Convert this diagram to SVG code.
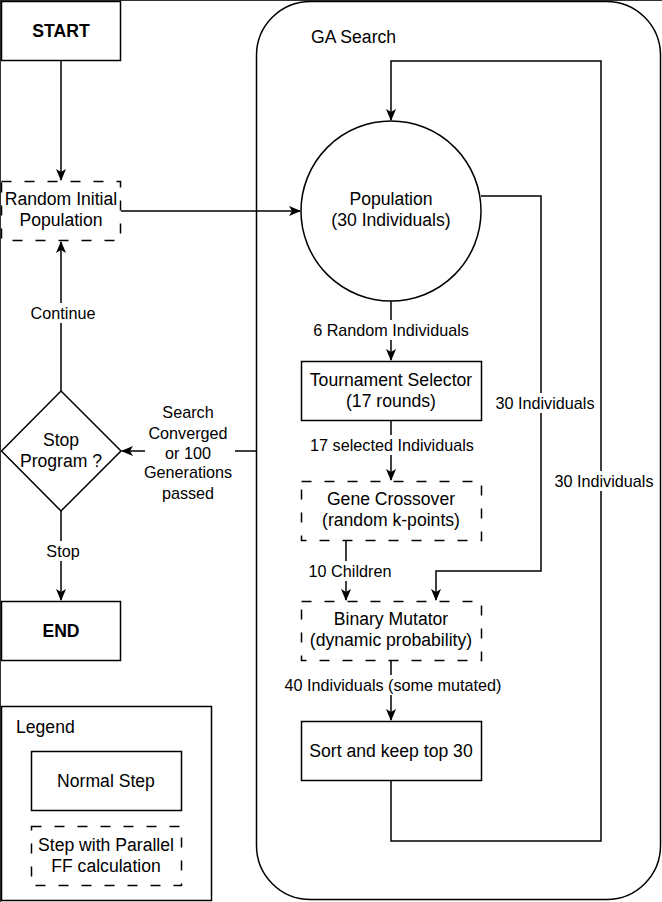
<svg xmlns="http://www.w3.org/2000/svg" width="662" height="902" viewBox="0 0 662 902">
<style>
  .box{fill:#fff;stroke:#000;stroke-width:1.5}
  .dash{fill:#fff;stroke:#000;stroke-width:1.5;stroke-dasharray:10 13}
  .line{fill:none;stroke:#000;stroke-width:1.5}
  .t{font-family:"Liberation Sans",Arial,sans-serif;font-size:17.6px;fill:#000;text-anchor:middle;dominant-baseline:central}
  .b{font-weight:bold}
  .lbl{font-family:"Liberation Sans",Arial,sans-serif;font-size:16.2px;fill:#000;text-anchor:middle;dominant-baseline:central}
  .bg{fill:#fff}
</style>
<defs>
  <marker id="arr" viewBox="0 0 12 10" refX="11" refY="5" markerWidth="12" markerHeight="10" markerUnits="userSpaceOnUse" orient="auto">
    <path d="M0,0 L12,5 L0,10 L3,5 Z" fill="#000"/>
  </marker>
</defs>
<rect width="662" height="902" fill="#fff"/>
<path d="M0,0.5 H662 M0.5,0 V902" stroke="#333" stroke-width="1" fill="none"/>

<g id="ga-search">
  <rect x="256.5" y="1.5" width="404" height="898" rx="54" ry="54" class="box"/>
  <text x="311" y="37" class="t" style="text-anchor:start">GA Search</text>
</g>

<g id="connectors">
  <path d="M61,61 V180" class="line" marker-end="url(#arr)"/>
  <path d="M121,211 H300" class="line" marker-end="url(#arr)"/>
  <path d="M61,391 V242" class="line" marker-end="url(#arr)"/>
  <path d="M61,511 V600" class="line" marker-end="url(#arr)"/>
  <path d="M256,451 H122" class="line" marker-end="url(#arr)"/>
  <path d="M391,301 V360" class="line" marker-end="url(#arr)"/>
  <path d="M391,421 V480" class="line" marker-end="url(#arr)"/>
  <path d="M346,541 V600" class="line" marker-end="url(#arr)"/>
  <path d="M481,196 H541 V571 H436 V600" class="line" marker-end="url(#arr)"/>
  <path d="M391,661 V720" class="line" marker-end="url(#arr)"/>
  <path d="M391,781 V841 H601 V61 H391 V120" class="line" marker-end="url(#arr)"/>

  <rect x="31" y="303" width="64" height="20" class="bg"/>
  <text x="63" y="313" class="lbl">Continue</text>
  <rect x="45" y="541" width="34" height="20" class="bg"/>
  <text x="63" y="551" class="lbl">Stop</text>
  <rect x="145" y="402" width="90" height="101" class="bg"/>
  <text class="lbl"><tspan x="188" y="412">Search</tspan><tspan x="188" y="433">Converged</tspan><tspan x="188" y="453">or 100</tspan><tspan x="188" y="472">Generations</tspan><tspan x="188" y="493">passed</tspan></text>
  <rect x="310" y="320" width="163" height="20" class="bg"/>
  <text x="391" y="330" class="lbl">6 Random Individuals</text>
  <rect x="308" y="435" width="168" height="20" class="bg"/>
  <text x="392" y="445" class="lbl">17 selected Individuals</text>
  <rect x="306" y="561" width="88" height="20" class="bg"/>
  <text x="350" y="571" class="lbl">10 Children</text>
  <rect x="494" y="393" width="102" height="20" class="bg"/>
  <text x="545" y="403" class="lbl">30 Individuals</text>
  <rect x="553" y="471" width="102" height="20" class="bg"/>
  <text x="604" y="481" class="lbl">30 Individuals</text>
  <rect x="282" y="675" width="224" height="20" class="bg"/>
  <text x="393" y="685" class="lbl">40 Individuals (some mutated)</text>
</g>

<g id="start">
  <rect x="1.5" y="1.5" width="119" height="59" class="box"/>
  <text x="61" y="31" class="t b">START</text>
</g>
<g id="random-initial">
  <rect x="1.5" y="181.5" width="119" height="59" class="dash"/>
  <text class="t"><tspan x="61" y="199">Random Initial</tspan><tspan x="61" y="220">Population</tspan></text>
</g>
<g id="stop-program">
  <polygon points="61,391 121,451 61,511 1.5,451" class="box"/>
  <text class="t"><tspan x="61" y="440">Stop</tspan><tspan x="61" y="461">Program ?</tspan></text>
</g>
<g id="end">
  <rect x="1.5" y="601.5" width="119" height="59" class="box"/>
  <text x="61" y="631" class="t b">END</text>
</g>
<g id="population">
  <circle cx="391" cy="211" r="90" class="box"/>
  <text class="t"><tspan x="391" y="199">Population</tspan><tspan x="391" y="220">(30 Individuals)</tspan></text>
</g>
<g id="tournament">
  <rect x="301.5" y="361.5" width="180" height="59" class="box"/>
  <text class="t"><tspan x="391" y="380">Tournament Selector</tspan><tspan x="391" y="401">(17 rounds)</tspan></text>
</g>
<g id="crossover">
  <rect x="301.5" y="481.5" width="180" height="59" class="dash"/>
  <text class="t"><tspan x="391" y="499">Gene Crossover</tspan><tspan x="391" y="520">(random k-points)</tspan></text>
</g>
<g id="mutator">
  <rect x="301.5" y="601.5" width="180" height="59" class="dash"/>
  <text class="t"><tspan x="391" y="619">Binary Mutator</tspan><tspan x="391" y="640">(dynamic probability)</tspan></text>
</g>
<g id="sort">
  <rect x="301.5" y="721.5" width="180" height="59" class="box"/>
  <text x="391" y="751" class="t">Sort and keep top 30</text>
</g>
<g id="legend">
  <rect x="1.5" y="706.5" width="210" height="194" class="box"/>
  <text x="16" y="727" class="t" style="text-anchor:start">Legend</text>
  <g id="legend-normal">
    <rect x="31.5" y="751.5" width="150" height="59" class="box"/>
    <text x="106" y="781" class="t">Normal Step</text>
  </g>
  <g id="legend-parallel">
    <rect x="31.5" y="826.5" width="150" height="59" class="dash"/>
    <text class="t"><tspan x="106" y="845">Step with Parallel</tspan><tspan x="106" y="866">FF calculation</tspan></text>
  </g>
</g>
</svg>
